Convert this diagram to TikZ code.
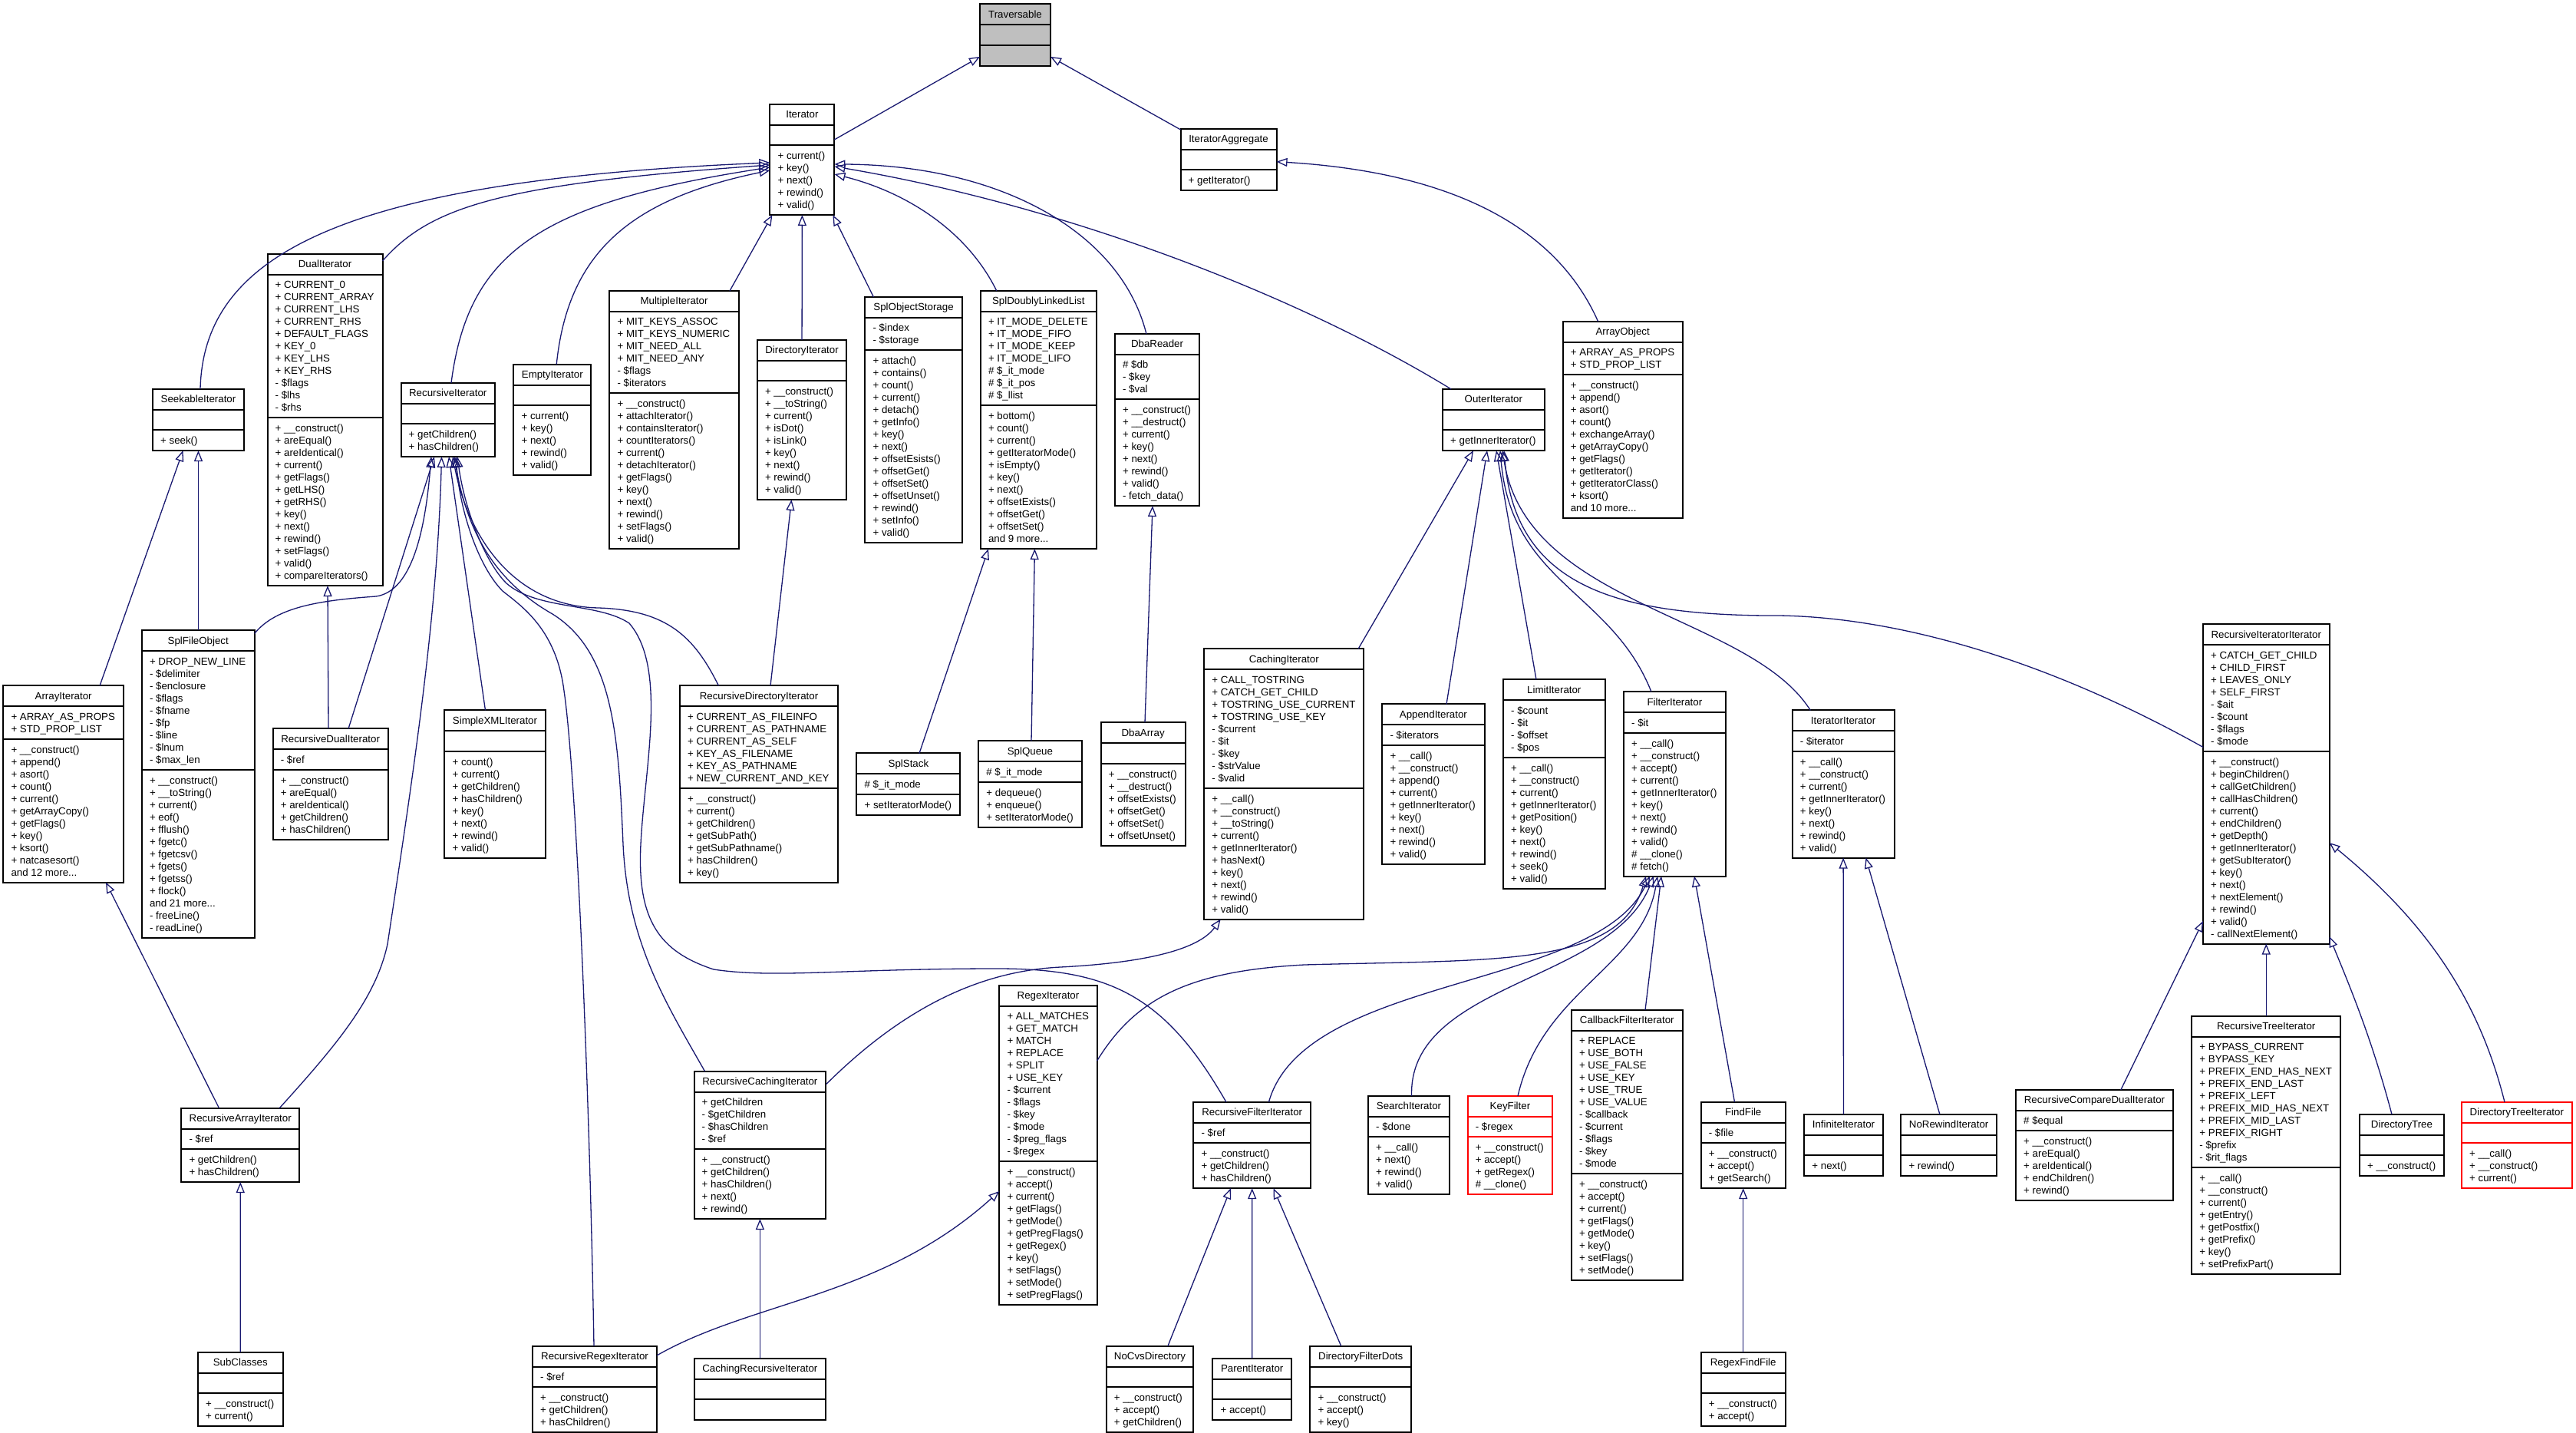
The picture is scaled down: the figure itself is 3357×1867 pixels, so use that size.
\documentclass[tikz,border=0pt]{standalone}
\usepackage{fontspec}
\setmainfont{Liberation Sans}
\usetikzlibrary{arrows.meta}
\definecolor{edgeblue}{RGB}{25,25,112}
\definecolor{travgray}{RGB}{191,191,191}
\newcommand{\ucol}{black}
\newcommand{\ufill}{white}
\tikzset{
  umlframe/.style={draw=\ucol, fill=\ufill, line width=2pt, anchor=north west, inner sep=0pt, outer sep=0pt, rectangle},
  umlsep/.style={draw=\ucol, line width=2pt},
  umltext/.style={font=\fontsize{13.3}{16}\selectfont, inner sep=0pt, text=black},
  inh/.style={draw=edgeblue, line width=1.3pt, -{Triangle[open, length=14pt, width=11pt]}},
}
% name, left, centre y, width, title, #attrs, attrs, #methods, methods
\newcommand{\umlbox}[9]{%
  \pgfmathsetmacro{\uhA}{max(#6,1)*16+10.7}%
  \pgfmathsetmacro{\uhM}{max(#8,1)*16+10.7}%
  \pgfmathsetmacro{\uH}{26.7+\uhA+\uhM}%
  \pgfmathsetmacro{\uT}{#3-\uH/2}%
  \node[umlframe, minimum width=#4pt, minimum height=\uH pt] (#1) at (#2,\uT) {};%
  \draw[umlsep] (#2,\uT+26.7) -- ++(#4,0);%
  \draw[umlsep] (#2,\uT+26.7+\uhA) -- ++(#4,0);%
  \node[umltext, anchor=base] at (#2+#4/2,\uT+18) {#5};%
  \node[umltext, anchor=north west, align=left] at (#2+10,\uT+26.7+6.8) {\strut#7};%
  \node[umltext, anchor=north west, align=left] at (#2+10,\uT+26.7+\uhA+6.8) {\strut#9};%
}
\begin{document}
\begin{tikzpicture}[x=1pt, y=-1pt]
\fill[white] (0,0) rectangle (3357,1867);
\path[use as bounding box] (0,0) rectangle (3357,1867);

% ---------------- rank 0 / 1
\renewcommand{\ufill}{travgray}
\umlbox{Traversable}{1277}{45.5}{92}{Traversable}{0}{}{0}{}
\renewcommand{\ufill}{white}
\umlbox{Iterator}{1003.4}{208}{84}{Iterator}{0}{}{5}{+ current()\\+ key()\\+ next()\\+ rewind()\\+ valid()}
\umlbox{IteratorAggregate}{1538.5}{208}{125}{IteratorAggregate}{0}{}{1}{+ getIterator()}

% ---------------- rank 2
\umlbox{SeekableIterator}{199}{547}{119}{SeekableIterator}{0}{}{1}{+ seek()}
\umlbox{DualIterator}{348.5}{547}{150}{DualIterator}{11}{+ CURRENT\_0\\+ CURRENT\_ARRAY\\+ CURRENT\_LHS\\+ CURRENT\_RHS\\+ DEFAULT\_FLAGS\\+ KEY\_0\\+ KEY\_LHS\\+ KEY\_RHS\\- \$flags\\- \$lhs\\- \$rhs}{13}{+ \_\_construct()\\+ areEqual()\\+ areIdentical()\\+ current()\\+ getFlags()\\+ getLHS()\\+ getRHS()\\+ key()\\+ next()\\+ rewind()\\+ setFlags()\\+ valid()\\+ compareIterators()}
\umlbox{RecursiveIterator}{522.5}{547}{122.5}{RecursiveIterator}{0}{}{2}{+ getChildren()\\+ hasChildren()}
\umlbox{EmptyIterator}{669.4}{547}{100.8}{EmptyIterator}{0}{}{5}{+ current()\\+ key()\\+ next()\\+ rewind()\\+ valid()}
\umlbox{MultipleIterator}{794.4}{547}{168.2}{MultipleIterator}{6}{+ MIT\_KEYS\_ASSOC\\+ MIT\_KEYS\_NUMERIC\\+ MIT\_NEED\_ALL\\+ MIT\_NEED\_ANY\\- \$flags\\- \$iterators}{12}{+ \_\_construct()\\+ attachIterator()\\+ containsIterator()\\+ countIterators()\\+ current()\\+ detachIterator()\\+ getFlags()\\+ key()\\+ next()\\+ rewind()\\+ setFlags()\\+ valid()}
\umlbox{DirectoryIterator}{986.8}{547}{116.5}{DirectoryIterator}{0}{}{9}{+ \_\_construct()\\+ \_\_toString()\\+ current()\\+ isDot()\\+ isLink()\\+ key()\\+ next()\\+ rewind()\\+ valid()}
\umlbox{SplObjectStorage}{1127.4}{547}{126.3}{SplObjectStorage}{2}{- \$index\\- \$storage}{15}{+ attach()\\+ contains()\\+ count()\\+ current()\\+ detach()\\+ getInfo()\\+ key()\\+ next()\\+ offsetEsists()\\+ offsetGet()\\+ offsetSet()\\+ offsetUnset()\\+ rewind()\\+ setInfo()\\+ valid()}
\umlbox{SplDoublyLinkedList}{1277.8}{547}{151}{SplDoublyLinkedList}{7}{+ IT\_MODE\_DELETE\\+ IT\_MODE\_FIFO\\+ IT\_MODE\_KEEP\\+ IT\_MODE\_LIFO\\\# \$\_it\_mode\\\# \$\_it\_pos\\\# \$\_llist}{11}{+ bottom()\\+ count()\\+ current()\\+ getIteratorMode()\\+ isEmpty()\\+ key()\\+ next()\\+ offsetExists()\\+ offsetGet()\\+ offsetSet()\\and 9 more...}
\umlbox{DbaReader}{1452.9}{547}{110.2}{DbaReader}{3}{\# \$db\\- \$key\\- \$val}{8}{+ \_\_construct()\\+ \_\_destruct()\\+ current()\\+ key()\\+ next()\\+ rewind()\\+ valid()\\- fetch\_data()}
\umlbox{OuterIterator}{1880}{547}{132.7}{OuterIterator}{0}{}{1}{+ getInnerIterator()}
\umlbox{ArrayObject}{2036.6}{547}{156.1}{ArrayObject}{2}{+ ARRAY\_AS\_PROPS\\+ STD\_PROP\_LIST}{11}{+ \_\_construct()\\+ append()\\+ asort()\\+ count()\\+ exchangeArray()\\+ getArrayCopy()\\+ getFlags()\\+ getIterator()\\+ getIteratorClass()\\+ ksort()\\and 10 more...}

% ---------------- rank 3
\umlbox{ArrayIterator}{4.3}{1021.5}{156.7}{ArrayIterator}{2}{+ ARRAY\_AS\_PROPS\\+ STD\_PROP\_LIST}{11}{+ \_\_construct()\\+ append()\\+ asort()\\+ count()\\+ current()\\+ getArrayCopy()\\+ getFlags()\\+ key()\\+ ksort()\\+ natcasesort()\\and 12 more...}
\umlbox{SplFileObject}{184.8}{1021.5}{146.9}{SplFileObject}{9}{+ DROP\_NEW\_LINE\\- \$delimiter\\- \$enclosure\\- \$flags\\- \$fname\\- \$fp\\- \$line\\- \$lnum\\- \$max\_len}{13}{+ \_\_construct()\\+ \_\_toString()\\+ current()\\+ eof()\\+ fflush()\\+ fgetc()\\+ fgetcsv()\\+ fgets()\\+ fgetss()\\+ flock()\\and 21 more...\\- freeLine()\\- readLine()}
\umlbox{RecursiveDualIterator}{355.6}{1021.5}{150.1}{RecursiveDualIterator}{1}{- \$ref}{5}{+ \_\_construct()\\+ areEqual()\\+ areIdentical()\\+ getChildren()\\+ hasChildren()}
\umlbox{SimpleXMLIterator}{579.4}{1021.5}{131.2}{SimpleXMLIterator}{0}{}{8}{+ count()\\+ current()\\+ getChildren()\\+ hasChildren()\\+ key()\\+ next()\\+ rewind()\\+ valid()}
\umlbox{RecursiveDirectoryIterator}{886}{1021.5}{206}{RecursiveDirectoryIterator}{6}{+ CURRENT\_AS\_FILEINFO\\+ CURRENT\_AS\_PATHNAME\\+ CURRENT\_AS\_SELF\\+ KEY\_AS\_FILENAME\\+ KEY\_AS\_PATHNAME\\+ NEW\_CURRENT\_AND\_KEY}{7}{+ \_\_construct()\\+ current()\\+ getChildren()\\+ getSubPath()\\+ getSubPathname()\\+ hasChildren()\\+ key()}
\umlbox{SplStack}{1116.4}{1021.5}{135}{SplStack}{1}{\# \$\_it\_mode}{1}{+ setIteratorMode()}
\umlbox{SplQueue}{1275.2}{1021.5}{134.4}{SplQueue}{1}{\# \$\_it\_mode}{3}{+ dequeue()\\+ enqueue()\\+ setIteratorMode()}
\umlbox{DbaArray}{1434.6}{1021.5}{110}{DbaArray}{0}{}{6}{+ \_\_construct()\\+ \_\_destruct()\\+ offsetExists()\\+ offsetGet()\\+ offsetSet()\\+ offsetUnset()}
\umlbox{CachingIterator}{1569.2}{1021.5}{208.1}{CachingIterator}{9}{+ CALL\_TOSTRING\\+ CATCH\_GET\_CHILD\\+ TOSTRING\_USE\_CURRENT\\+ TOSTRING\_USE\_KEY\\- \$current\\- \$it\\- \$key\\- \$strValue\\- \$valid}{10}{+ \_\_call()\\+ \_\_construct()\\+ \_\_toString()\\+ current()\\+ getInnerIterator()\\+ hasNext()\\+ key()\\+ next()\\+ rewind()\\+ valid()}
\umlbox{AppendIterator}{1801.3}{1021.5}{133.2}{AppendIterator}{1}{- \$iterators}{9}{+ \_\_call()\\+ \_\_construct()\\+ append()\\+ current()\\+ getInnerIterator()\\+ key()\\+ next()\\+ rewind()\\+ valid()}
\umlbox{LimitIterator}{1959}{1021.5}{132.6}{LimitIterator}{4}{- \$count\\- \$it\\- \$offset\\- \$pos}{10}{+ \_\_call()\\+ \_\_construct()\\+ current()\\+ getInnerIterator()\\+ getPosition()\\+ key()\\+ next()\\+ rewind()\\+ seek()\\+ valid()}
\umlbox{FilterIterator}{2116}{1021.5}{132.8}{FilterIterator}{1}{- \$it}{11}{+ \_\_call()\\+ \_\_construct()\\+ accept()\\+ current()\\+ getInnerIterator()\\+ key()\\+ next()\\+ rewind()\\+ valid()\\\# \_\_clone()\\\# fetch()}
\umlbox{IteratorIterator}{2335.7}{1021.5}{132.8}{IteratorIterator}{1}{- \$iterator}{8}{+ \_\_call()\\+ \_\_construct()\\+ current()\\+ getInnerIterator()\\+ key()\\+ next()\\+ rewind()\\+ valid()}
\umlbox{RecursiveIteratorIterator}{2871}{1021.5}{164.5}{RecursiveIteratorIterator}{8}{+ CATCH\_GET\_CHILD\\+ CHILD\_FIRST\\+ LEAVES\_ONLY\\+ SELF\_FIRST\\- \$ait\\- \$count\\- \$flags\\- \$mode}{15}{+ \_\_construct()\\+ beginChildren()\\+ callGetChildren()\\+ callHasChildren()\\+ current()\\+ endChildren()\\+ getDepth()\\+ getInnerIterator()\\+ getSubIterator()\\+ key()\\+ next()\\+ nextElement()\\+ rewind()\\+ valid()\\- callNextElement()}

% ---------------- rank 4
\umlbox{RecursiveArrayIterator}{236.3}{1492}{153.9}{RecursiveArrayIterator}{1}{- \$ref}{2}{+ getChildren()\\+ hasChildren()}
\umlbox{RecursiveCachingIterator}{904.5}{1492}{171.8}{RecursiveCachingIterator}{4}{+ getChildren\\- \$getChildren\\- \$hasChildren\\- \$ref}{5}{+ \_\_construct()\\+ getChildren()\\+ hasChildren()\\+ next()\\+ rewind()}
\umlbox{RegexIterator}{1302.3}{1492}{127.4}{RegexIterator}{12}{+ ALL\_MATCHES\\+ GET\_MATCH\\+ MATCH\\+ REPLACE\\+ SPLIT\\+ USE\_KEY\\- \$current\\- \$flags\\- \$key\\- \$mode\\- \$preg\_flags\\- \$regex}{11}{+ \_\_construct()\\+ accept()\\+ current()\\+ getFlags()\\+ getMode()\\+ getPregFlags()\\+ getRegex()\\+ key()\\+ setFlags()\\+ setMode()\\+ setPregFlags()}
\umlbox{RecursiveFilterIterator}{1555.4}{1492}{152.6}{RecursiveFilterIterator}{1}{- \$ref}{3}{+ \_\_construct()\\+ getChildren()\\+ hasChildren()}
\umlbox{SearchIterator}{1783}{1492}{106}{SearchIterator}{1}{- \$done}{4}{+ \_\_call()\\+ next()\\+ rewind()\\+ valid()}
\renewcommand{\ucol}{red}
\umlbox{KeyFilter}{1912.6}{1492}{110.7}{KeyFilter}{1}{- \$regex}{4}{+ \_\_construct()\\+ accept()\\+ getRegex()\\\# \_\_clone()}
\renewcommand{\ucol}{black}
\umlbox{CallbackFilterIterator}{2047.8}{1492}{144.9}{CallbackFilterIterator}{11}{+ REPLACE\\+ USE\_BOTH\\+ USE\_FALSE\\+ USE\_KEY\\+ USE\_TRUE\\+ USE\_VALUE\\- \$callback\\- \$current\\- \$flags\\- \$key\\- \$mode}{8}{+ \_\_construct()\\+ accept()\\+ current()\\+ getFlags()\\+ getMode()\\+ key()\\+ setFlags()\\+ setMode()}
\umlbox{FindFile}{2216.6}{1492}{110.2}{FindFile}{1}{- \$file}{3}{+ \_\_construct()\\+ accept()\\+ getSearch()}
\umlbox{InfiniteIterator}{2351.2}{1492}{102.5}{InfiniteIterator}{0}{}{1}{+ next()}
\umlbox{NoRewindIterator}{2477.3}{1492}{124.7}{NoRewindIterator}{0}{}{1}{+ rewind()}
\umlbox{RecursiveCompareDualIterator}{2627}{1492}{204.9}{RecursiveCompareDualIterator}{1}{\# \$equal}{5}{+ \_\_construct()\\+ areEqual()\\+ areIdentical()\\+ endChildren()\\+ rewind()}
\umlbox{RecursiveTreeIterator}{2856.2}{1492}{194.1}{RecursiveTreeIterator}{10}{+ BYPASS\_CURRENT\\+ BYPASS\_KEY\\+ PREFIX\_END\_HAS\_NEXT\\+ PREFIX\_END\_LAST\\+ PREFIX\_LEFT\\+ PREFIX\_MID\_HAS\_NEXT\\+ PREFIX\_MID\_LAST\\+ PREFIX\_RIGHT\\- \$prefix\\- \$rit\_flags}{8}{+ \_\_call()\\+ \_\_construct()\\+ current()\\+ getEntry()\\+ getPostfix()\\+ getPrefix()\\+ key()\\+ setPrefixPart()}
\umlbox{DirectoryTree}{3075}{1492}{109.9}{DirectoryTree}{0}{}{1}{+ \_\_construct()}
\renewcommand{\ucol}{red}
\umlbox{DirectoryTreeIterator}{3208}{1492}{143.6}{DirectoryTreeIterator}{0}{}{3}{+ \_\_call()\\+ \_\_construct()\\+ current()}
\renewcommand{\ucol}{black}

% ---------------- rank 5
\umlbox{SubClasses}{258}{1810}{110.6}{SubClasses}{0}{}{2}{+ \_\_construct()\\+ current()}
\umlbox{RecursiveRegexIterator}{694}{1810}{162}{RecursiveRegexIterator}{1}{- \$ref}{3}{+ \_\_construct()\\+ getChildren()\\+ hasChildren()}
\umlbox{CachingRecursiveIterator}{904.5}{1810}{171.8}{CachingRecursiveIterator}{0}{}{0}{}
\umlbox{NoCvsDirectory}{1441.6}{1810}{113.8}{NoCvsDirectory}{0}{}{3}{+ \_\_construct()\\+ accept()\\+ getChildren()}
\umlbox{ParentIterator}{1580.4}{1810}{102.5}{ParentIterator}{0}{}{1}{+ accept()}
\umlbox{DirectoryFilterDots}{1707.4}{1810}{131.6}{DirectoryFilterDots}{0}{}{3}{+ \_\_construct()\\+ accept()\\+ key()}
\umlbox{RegexFindFile}{2216.6}{1810}{110.2}{RegexFindFile}{0}{}{2}{+ \_\_construct()\\+ accept()}

% ================= inheritance edges (child -> parent)
\draw[inh] ([shift={(0,46)}]Iterator.north east) -- ([shift={(0,68.5)}]Traversable.north west);
\draw[inh] ([shift={(0,1)}]IteratorAggregate.north west) -- ([shift={(0,68.5)}]Traversable.north east);
\draw[inh] ([shift={(46,0)}]ArrayObject.north west) .. controls (2030,300) and (1900,225) .. ([shift={(0,42.7)}]IteratorAggregate.north east);

\draw[inh] ([shift={(62,0)}]SeekableIterator.north west) .. controls (265,330) and (450,235) .. ([shift={(0,76)}]Iterator.north west);
\draw[inh] ([shift={(0,9)}]DualIterator.north east) .. controls (560,270) and (650,240) .. ([shift={(0,79)}]Iterator.north west);
\draw[inh] ([shift={(65.5,0)}]RecursiveIterator.north west) .. controls (610,330) and (700,265) .. ([shift={(0,82)}]Iterator.north west);
\draw[inh] ([shift={(55.8,0)}]EmptyIterator.north west) .. controls (740,330) and (820,260) .. ([shift={(0,86)}]Iterator.north west);
\draw[inh] ([shift={(156.6,0)}]MultipleIterator.north west) -- ([shift={(3,0)}]Iterator.south west);
\draw[inh] (DirectoryIterator.north) -- (Iterator.south);
\draw[inh] ([shift={(11,0)}]SplObjectStorage.north west) -- ([shift={(-2,0)}]Iterator.south east);
\draw[inh] ([shift={(21,0)}]SplDoublyLinkedList.north west) .. controls (1260,300) and (1180,250) .. ([shift={(0,91)}]Iterator.north east);
\draw[inh] ([shift={(41,0)}]DbaReader.north west) .. controls (1460,300) and (1300,215) .. ([shift={(0,78)}]Iterator.north east);
\draw[inh] ([shift={(11,0)}]OuterIterator.north west) .. controls (1700,390) and (1400,270) .. ([shift={(0,81)}]Iterator.north east);

\draw[inh] ([shift={(125.7,0)}]ArrayIterator.north west) -- ([shift={(39.5,0)}]SeekableIterator.south west);
\draw[inh] ([shift={(73.7,0)}]SplFileObject.north west) -- ([shift={(59.5,0)}]SeekableIterator.south west);
\draw[inh] ([shift={(0,4)}]SplFileObject.north east) .. controls (360,790) and (420,782) .. (490,777) .. controls (540,770) and (555,680) .. ([shift={(39.5,0)}]RecursiveIterator.south west);
\draw[inh] ([shift={(72.4,0)}]RecursiveDualIterator.north west) -- ([shift={(78.5,0)}]DualIterator.south west);
\draw[inh] ([shift={(98.4,0)}]RecursiveDualIterator.north west) -- ([shift={(43.5,0)}]RecursiveIterator.south west);
\draw[inh] ([shift={(49.3,0)}]RecursiveArrayIterator.north west) -- ([shift={(133.7,0)}]ArrayIterator.south west);
\draw[inh] ([shift={(127.7,0)}]RecursiveArrayIterator.north west) .. controls (440,1360) and (490,1300) .. (505,1230) .. controls (540,1000) and (570,800) .. ([shift={(53,0)}]RecursiveIterator.south west);
\draw[inh] ([shift={(53.1,0)}]SimpleXMLIterator.north west) -- ([shift={(62.5,0)}]RecursiveIterator.south west);
\draw[inh] ([shift={(118,0)}]RecursiveDirectoryIterator.north west) -- ([shift={(44.7,0)}]DirectoryIterator.south west);
\draw[inh] ([shift={(50.5,0)}]RecursiveDirectoryIterator.north west) .. controls (905,830) and (870,795) .. (780,792) .. controls (670,790) and (610,700) .. ([shift={(67.5,0)}]RecursiveIterator.south west);
\draw[inh] ([shift={(14.1,0)}]RecursiveCachingIterator.north west) .. controls (870,1310) and (818,1230) .. (812,1100) .. controls (806,960) and (800,850) .. (720,800) .. controls (650,760) and (610,700) .. ([shift={(69.5,0)}]RecursiveIterator.south west);
\draw[inh] ([shift={(0,17)}]RecursiveCachingIterator.north east) .. controls (1180,1310) and (1280,1265) .. (1382,1260) .. controls (1480,1255) and (1560,1240) .. ([shift={(21.5,0)}]CachingIterator.south west);
\draw[inh] ([shift={(80,0)}]RecursiveRegexIterator.north west) .. controls (768,1400) and (750,1000) .. (735,900) .. controls (725,820) and (680,790) .. (655,770) .. controls (625,740) and (600,670) .. ([shift={(71.5,0)}]RecursiveIterator.south west);
\draw[inh] ([shift={(0,12)}]RecursiveRegexIterator.north east) .. controls (980,1695) and (1150,1690) .. ([shift={(0,268)}]RegexIterator.north west);
\draw[inh] ([shift={(42.6,0)}]RecursiveFilterIterator.north west) .. controls (1520,1300) and (1450,1262) .. (1300,1262) .. controls (1100,1262) and (1010,1275) .. (930,1263) .. controls (860,1240) and (830,1200) .. (835,1100) .. controls (840,1000) and (870,870) .. (820,812) .. controls (780,785) and (700,795) .. (660,760) .. controls (630,730) and (605,660) .. ([shift={(73.5,0)}]RecursiveIterator.south west);
\draw[inh] ([shift={(98,0)}]RecursiveFilterIterator.north west) .. controls (1700,1270) and (2080,1290) .. ([shift={(34,0)}]FilterIterator.south west);

\draw[inh] ([shift={(81.6,0)}]SplStack.north west) -- ([shift={(10.2,0)}]SplDoublyLinkedList.south west);
\draw[inh] ([shift={(68.8,0)}]SplQueue.north west) -- ([shift={(70.6,0)}]SplDoublyLinkedList.south west);
\draw[inh] ([shift={(57.4,0)}]DbaArray.north west) -- ([shift={(49.1,0)}]DbaReader.south west);

\draw[inh] ([shift={(200.8,0)}]CachingIterator.north west) -- ([shift={(40,0)}]OuterIterator.south west);
\draw[inh] ([shift={(83.7,0)}]AppendIterator.north west) -- ([shift={(58,0)}]OuterIterator.south west);
\draw[inh] ([shift={(43,0)}]LimitIterator.north west) -- ([shift={(70,0)}]OuterIterator.south west);
\draw[inh] ([shift={(36,0)}]FilterIterator.north west) .. controls (2100,770) and (1970,760) .. ([shift={(75,0)}]OuterIterator.south west);
\draw[inh] ([shift={(23.6,0)}]IteratorIterator.north west) .. controls (2280,800) and (1990,790) .. ([shift={(78,0)}]OuterIterator.south west);
\draw[inh] ([shift={(0,160)}]RecursiveIteratorIterator.north west) .. controls (2650,850) and (2450,800) .. (2300,802) .. controls (2100,800) and (1975,760) .. ([shift={(80,0)}]OuterIterator.south west);

\draw[inh] ([shift={(0,98)}]RegexIterator.north east) .. controls (1480,1300) and (1550,1265) .. (1700,1257) .. controls (1950,1250) and (2110,1260) .. ([shift={(29,0)}]FilterIterator.south west);
\draw[inh] ([shift={(56.6,0)}]SearchIterator.north west) .. controls (1835,1280) and (2100,1280) .. ([shift={(39,0)}]FilterIterator.south west);
\draw[inh] ([shift={(65.4,0)}]KeyFilter.north west) .. controls (2010,1290) and (2140,1260) .. ([shift={(44,0)}]FilterIterator.south west);
\draw[inh] ([shift={(96.2,0)}]CallbackFilterIterator.north west) -- ([shift={(49,0)}]FilterIterator.south west);
\draw[inh] ([shift={(43.9,0)}]FindFile.north west) -- ([shift={(92,0)}]FilterIterator.south west);
\draw[inh] (RegexFindFile.north) -- (FindFile.south);

\draw[inh] (InfiniteIterator.north) -- (IteratorIterator.south);
\draw[inh] ([shift={(50.6,0)}]NoRewindIterator.north west) -- ([shift={(95.8,0)}]IteratorIterator.south west);

\draw[inh] ([shift={(136.8,0)}]RecursiveCompareDualIterator.north west) -- ([shift={(0,386.5)}]RecursiveIteratorIterator.north west);
\draw[inh] (RecursiveTreeIterator.north) -- (RecursiveIteratorIterator.south);
\draw[inh] ([shift={(42,0)}]DirectoryTree.north west) .. controls (3090,1350) and (3060,1280) .. ([shift={(0,406.5)}]RecursiveIteratorIterator.north east);
\draw[inh] ([shift={(56,0)}]DirectoryTreeIterator.north west) .. controls (3230,1300) and (3160,1200) .. ([shift={(0,284.5)}]RecursiveIteratorIterator.north east);

\draw[inh] (SubClasses.north) -- (RecursiveArrayIterator.south);
\draw[inh] (CachingRecursiveIterator.north) -- (RecursiveCachingIterator.south);
\draw[inh] ([shift={(80.2,0)}]NoCvsDirectory.north west) -- ([shift={(48.6,0)}]RecursiveFilterIterator.south west);
\draw[inh] (ParentIterator.north) -- (RecursiveFilterIterator.south);
\draw[inh] ([shift={(40.4,0)}]DirectoryFilterDots.north west) -- ([shift={(104.1,0)}]RecursiveFilterIterator.south west);
\end{tikzpicture}
\end{document}
